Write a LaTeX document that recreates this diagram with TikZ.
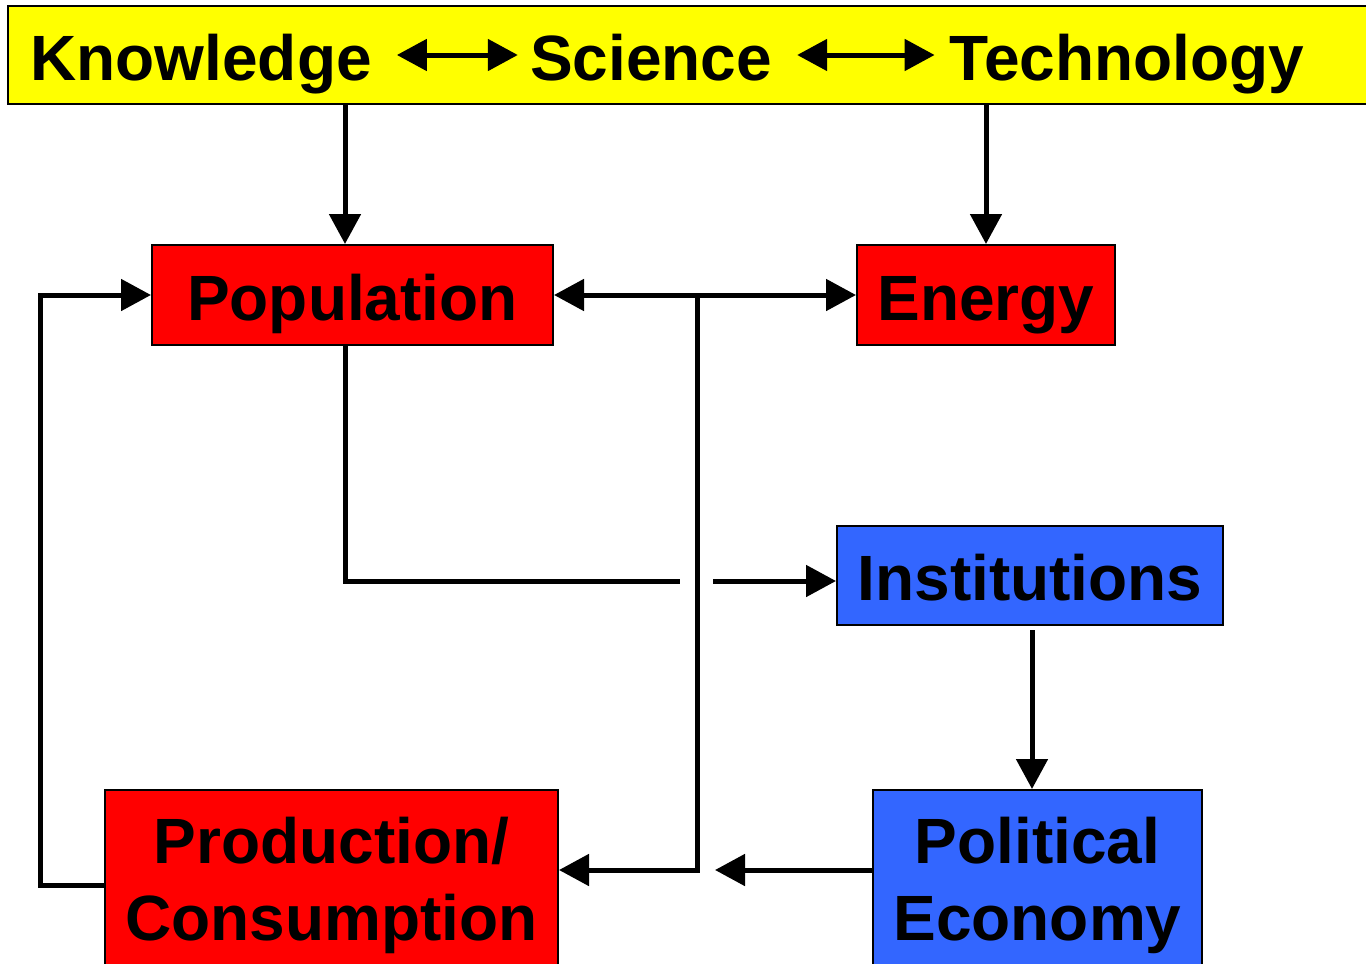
\documentclass[tikz,border=0pt]{standalone}
\usepackage{fontspec}
\setmainfont{Liberation Sans}
\usetikzlibrary{arrows.meta}
\definecolor{baryellow}{HTML}{FFFF00}
\definecolor{boxred}{HTML}{FF0000}
\definecolor{boxblue}{HTML}{3366FF}
\begin{document}
\begin{tikzpicture}[x=1pt,y=-1pt,
    >={Triangle[length=30pt,width=31pt]},
    flow/.style={line width=5pt},
    label/.style={inner sep=0pt,font=\fontsize{64}{77}\selectfont\bfseries},
    box/.style={label,draw=black,line width=2pt,align=center,text height=50pt,text depth=0pt},
    twobox/.style={box,text height=127pt,text depth=43pt,minimum height=216pt}]
  \useasboundingbox (0,0) rectangle (1366,964);
  \node[box,fill=baryellow,minimum width=1372pt,minimum height=98pt] (bar) at (694,55) {};
  \node[label,anchor=base] (knowledge) at (201,80) {Knowledge};
  \node[label,anchor=base] (science) at (651,80) {Science};
  \node[label,anchor=base] (technology) at (1127,80) {Technology};
  \node[box,fill=boxred,minimum width=401pt,minimum height=100pt] (population) at (352.5,295) {Population};
  \node[box,fill=boxred,minimum width=258pt,minimum height=100pt] (energy) at (986,295) {Energy};
  \node[box,fill=boxblue,minimum width=386pt,minimum height=99pt] (institutions) at (1030,575.5) {Institutions};
  \node[twobox,fill=boxred,minimum width=453pt] (production) at (331.5,898) {Production/\\Consumption};
  \node[twobox,fill=boxblue,minimum width=329pt] (political) at (1037.5,898) {Political\\Economy};
  \coordinate (kp) at (345,581);
  \coordinate (gapA) at (680,581);
  \coordinate (gapB) at (713,581);
  \coordinate (spine) at (697,870);
  \coordinate (gapC) at (715,870);
  \coordinate (ip) at (1032,630);
  \coordinate (loop) at (40,885);
  \draw[flow,<->,shorten <=25pt,shorten >=12pt] (knowledge.east |- bar.center) -- (science.west |- bar.center);
  \draw[flow,<->,shorten <=25pt,shorten >=15pt] (science.east |- bar.center) -- (technology.west |- bar.center);
  \draw[flow,->] (bar.south -| kp) -- (population.north -| kp);
  \draw[flow,->] (bar.south -| energy.north) -- (energy.north);
  \draw[flow,<->] (population.east) -- (energy.west);
  \draw[flow,->] (spine |- population.east) -- (spine) -- (production.east |- spine);
  \draw[flow] (population.south -| kp) -- (kp) -- (gapA);
  \draw[flow,->] (gapB) -- (institutions.west |- gapB);
  \draw[flow,->] (ip) -- (political.north -| ip);
  \draw[flow,->] (political.west |- spine) -- (gapC);
  \draw[flow,->] (production.west |- loop) -- (loop) |- (population.west);
\end{tikzpicture}
\end{document}
